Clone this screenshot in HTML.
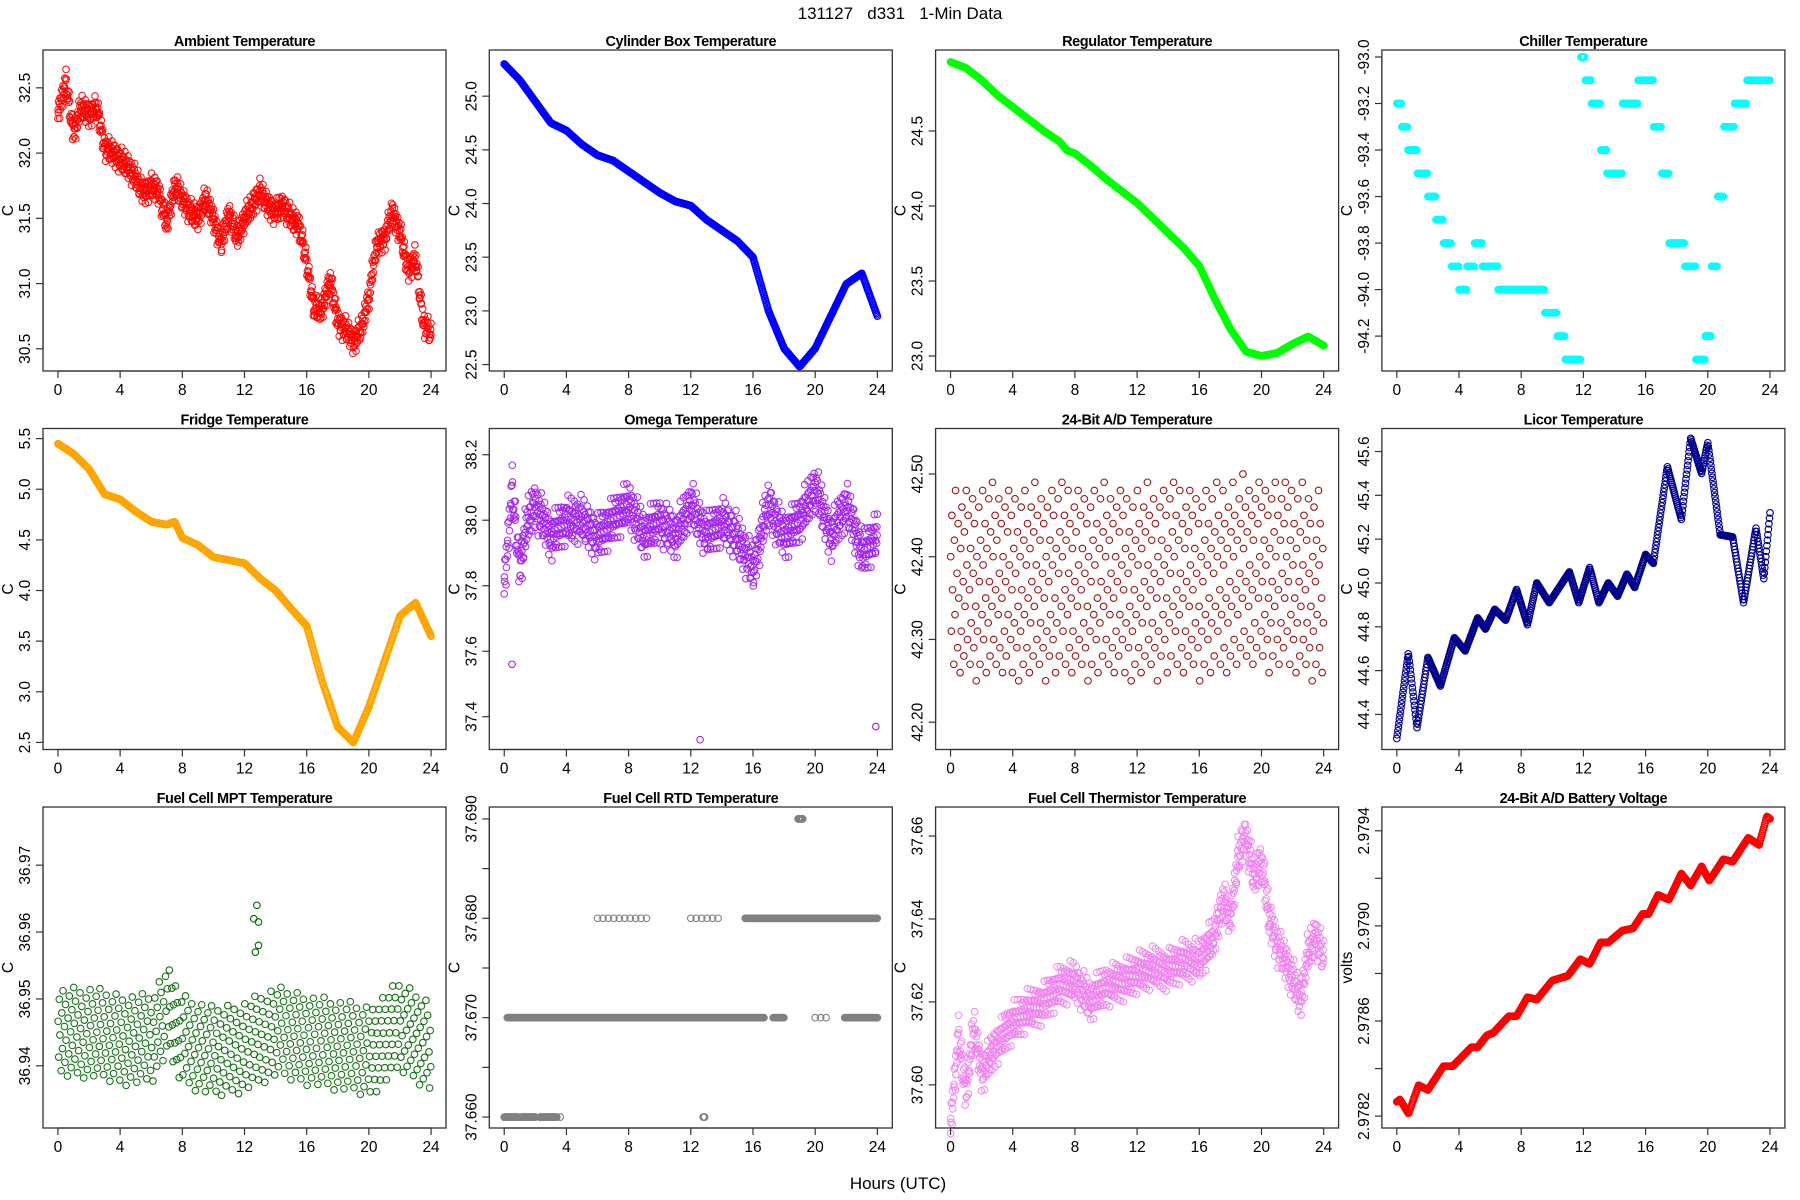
<!DOCTYPE html>
<html><head><meta charset="utf-8"><style>
html,body{margin:0;padding:0;background:#fff}
svg{display:block;font-family:"Liberation Sans",sans-serif}
</style></head><body>
<svg id="fig" width="1800" height="1200" viewBox="0 0 1800 1200" xmlns="http://www.w3.org/2000/svg">
<rect width="1800" height="1200" fill="#fff"/>
<text x="900" y="19" text-anchor="middle" font-size="17" fill="#000" xml:space="preserve">131127   d331   1-Min Data</text>
<text x="898" y="1189" text-anchor="middle" font-size="17" fill="#000">Hours (UTC)</text>
</svg>
<script>
// ---------- data ----------
const hoursTicks = [0,4,8,12,16,20,24];

const ambientHours = [0,0.5,1,1.5,2,2.5,3,3.5,4,4.5,5,5.5,6,6.5,7,7.5,8,8.5,9,9.5,10,10.5,11,11.5,12,12.5,13,13.5,14,14.5,15,15.5,16,16.5,17,17.5,18,18.5,19,19.5,20,20.5,21,21.5,22,22.5,23,23.5,24];
const ambientVals = [32.3,32.55,32.15,32.35,32.3,32.35,32.05,32.0,31.95,31.9,31.8,31.7,31.75,31.7,31.45,31.75,31.65,31.55,31.5,31.65,31.5,31.3,31.55,31.35,31.5,31.6,31.7,31.6,31.55,31.6,31.5,31.45,31.15,30.8,30.8,31.05,30.7,30.65,30.55,30.65,30.9,31.3,31.35,31.55,31.4,31.1,31.2,30.7,30.6];

const cylHours = [0,1,2,3,4,5,6,7,8,9,10,11,12,13,14,15,16,17,18,19,20,21,22,23,24];
const cylVals = [25.3,25.15,24.95,24.75,24.68,24.55,24.45,24.4,24.3,24.2,24.1,24.02,23.98,23.85,23.75,23.65,23.5,23.0,22.65,22.48,22.65,22.95,23.25,23.35,22.95];

const regHours = [0,1,2,3,4,5,6,7,7.5,8,9,10,11,12,13,14,15,16,17,18,19,20,21,22,23,24];
const regVals = [24.96,24.92,24.84,24.74,24.66,24.58,24.5,24.43,24.37,24.35,24.27,24.18,24.1,24.02,23.92,23.82,23.72,23.6,23.38,23.18,23.03,23.0,23.02,23.08,23.13,23.07];

const chillHours = [0,0.3,0.7,1.3,2,2.5,3,3.5,4,4.5,5,5.5,6,6.5,9,9.5,10.3,10.8,11.8,12.1,12.5,13.1,13.5,14.5,15.5,16.5,17,17.5,18.5,19.2,19.8,20.2,20.6,21,21.7,22.5,24];
const chillVals = [-93.2,-93.3,-93.4,-93.5,-93.6,-93.7,-93.8,-93.9,-94.0,-93.9,-93.8,-93.9,-93.9,-94.0,-94.0,-94.1,-94.2,-94.3,-93.0,-93.1,-93.2,-93.4,-93.5,-93.2,-93.1,-93.3,-93.5,-93.8,-93.9,-94.3,-94.2,-93.9,-93.6,-93.3,-93.2,-93.1,-93.1];

const fridgeHours = [0,1,2,3,4,5,6,7,7.5,8,9,10,11,12,13,14,15,16,17,18,19,20,21,22,23,24];
const fridgeVals = [5.45,5.35,5.2,4.95,4.9,4.78,4.68,4.65,4.68,4.52,4.45,4.33,4.3,4.27,4.12,4.0,3.82,3.65,3.1,2.65,2.5,2.85,3.3,3.75,3.88,3.55];

const omegaHours = [0,0.5,1,1.5,2,3,4,5,6,7,8,9,10,11,12,13,14,15,16,17,18,19,20,21,22,23,24];
const omegaVals = [37.8,38.1,37.85,38.0,38.05,37.95,38.0,38.0,37.95,38.0,38.05,37.95,38.0,37.95,38.05,37.95,38.0,37.95,37.85,38.05,37.95,38.0,38.1,37.95,38.05,37.9,37.95];
const omegaOutlierHours = [0.5,12.6,23.9];
const omegaOutlierVals = [37.56,37.33,37.37];

const adHours = [0,4,8,12,16,20,24];
const adVals = [42.37,42.37,42.37,42.37,42.37,42.38,42.37];

const licorHours = [0,0.74,1.3,2,2.8,3.7,4.4,5.2,5.7,6.3,7,7.7,8.4,9,9.8,11.1,11.7,12.4,13,13.6,14.2,14.8,15.3,16,16.5,17.4,18.3,18.9,19.6,20,20.8,21.6,22.3,23.1,23.6,24];
const licorVals = [44.29,44.68,44.34,44.66,44.53,44.75,44.69,44.84,44.79,44.88,44.83,44.97,44.81,45.0,44.91,45.05,44.91,45.07,44.91,45.0,44.94,45.04,44.98,45.13,45.09,45.53,45.29,45.66,45.5,45.64,45.22,45.21,44.91,45.25,45.02,45.32];

const mptHours = [0,2,4,6,7,8,10,12,14,16,18,20,22,24];
const mptVals = [36.945,36.945,36.944,36.944,36.948,36.944,36.942,36.943,36.945,36.944,36.943,36.942,36.946,36.943];
const mptOutlierHours = [12.6,12.8,12.9,12.9,12.7];
const mptOutlierVals = [36.962,36.964,36.9615,36.958,36.957];

const rtdSegStart = [0,1.1,2.3,3.6,12.8,0.2,17.3,20,21.9,6,12,15.5,18.9];
const rtdSegEnd   = [0.9,2.0,3.4,3.9,12.9,16.7,18,21,24,9.2,14,24,19.2];
const rtdSegVal   = [37.66,37.66,37.66,37.66,37.66,37.67,37.67,37.67,37.67,37.68,37.68,37.68,37.69];
const rtdSegDense = [1,1,1,0,1,1,1,0,1,0,0,1,1];

const thermHours = [0,0.5,1,1.5,2,3,4,5,6,7,8,9,10,11,12,13,14,15,16,17,17.5,18,18.5,19,19.5,20,20.5,21,22,22.5,23,23.5,24];
const thermVals = [37.59,37.612,37.598,37.614,37.603,37.61,37.615,37.618,37.62,37.624,37.625,37.62,37.624,37.625,37.627,37.628,37.628,37.63,37.63,37.636,37.645,37.64,37.655,37.66,37.65,37.654,37.64,37.634,37.626,37.62,37.632,37.636,37.63];

const battHours = [0,0.2,0.75,1.4,2,3,3.6,4.8,5.2,5.8,6.2,7.2,7.7,8.4,9,10,11,11.8,12.4,13.1,13.6,14.5,15.2,15.8,16.2,16.8,17.5,18.3,18.9,19.6,20.1,21,21.6,22.6,23.3,23.8,24];
const battVals = [2.97826,2.97827,2.97821,2.97833,2.97831,2.97841,2.97841,2.97849,2.97849,2.97854,2.97855,2.97862,2.97862,2.97870,2.97869,2.97877,2.97879,2.97886,2.97884,2.97893,2.97893,2.97898,2.97899,2.97905,2.97905,2.97913,2.97911,2.97922,2.97917,2.97925,2.97919,2.97928,2.97927,2.97937,2.97934,2.97946,2.97945];

// ---------- layout ----------
const NS="http://www.w3.org/2000/svg";
const svg=document.getElementById('fig');
function mk(tag,attrs,parent){const e=document.createElementNS(NS,tag);for(const k in attrs)e.setAttribute(k,attrs[k]);(parent||svg).appendChild(e);return e;}

const panels=[
 {title:"Ambient Temperature",col:0,row:0,ylim:[30.33,32.79],ticks:[30.5,31.0,31.5,32.0,32.5],dec:1,color:"#ff0000",hours:ambientHours,vals:ambientVals,spread:0.22,dens:2,type:"scatter"},
 {title:"Cylinder Box Temperature",col:1,row:0,ylim:[22.44,25.43],ticks:[22.5,23.0,23.5,24.0,24.5,25.0],dec:1,color:"#0000ff",hours:cylHours,vals:cylVals,type:"line"},
 {title:"Regulator Temperature",col:2,row:0,ylim:[22.9,25.04],ticks:[23.0,23.5,24.0,24.5],dec:1,color:"#00ff00",hours:regHours,vals:regVals,type:"line"},
 {title:"Chiller Temperature",col:3,row:0,ylim:[-94.35,-92.97],ticks:[-94.2,-94.0,-93.8,-93.6,-93.4,-93.2,-93.0],dec:1,color:"#00ffff",hours:chillHours,vals:chillVals,type:"step"},
 {title:"Fridge Temperature",col:0,row:1,ylim:[2.43,5.60],ticks:[2.5,3.0,3.5,4.0,4.5,5.0,5.5],dec:1,color:"#ffa500",hours:fridgeHours,vals:fridgeVals,type:"line"},
 {title:"Omega Temperature",col:1,row:1,ylim:[37.30,38.28],ticks:[37.4,37.6,37.8,38.0,38.2],dec:1,color:"#a020f0",hours:omegaHours,vals:omegaVals,spread:0.16,dens:2,type:"scatter",oh:omegaOutlierHours,ov:omegaOutlierVals},
 {title:"24-Bit A/D Temperature",col:2,row:1,ylim:[42.167,42.555],ticks:[42.20,42.30,42.40,42.50],dec:2,color:"#8b0000",hours:adHours,vals:adVals,spread:0.24,q:0.01,dens:1,type:"scatter"},
 {title:"Licor Temperature",col:3,row:1,ylim:[44.24,45.705],ticks:[44.4,44.6,44.8,45.0,45.2,45.4,45.6],dec:1,color:"#00008b",hours:licorHours,vals:licorVals,type:"line"},
 {title:"Fuel Cell MPT Temperature",col:0,row:2,ylim:[36.9307,36.9787],ticks:[36.94,36.95,36.96,36.97],dec:2,color:"#006400",hours:mptHours,vals:mptVals,spread:0.014,dens:1,type:"scatter",oh:mptOutlierHours,ov:mptOutlierVals},
 {title:"Fuel Cell RTD Temperature",col:1,row:2,ylim:[37.6589,37.6912],ticks:[37.660,37.665,37.670,37.675,37.680,37.685,37.690],lab:[1,0,1,0,1,0,1],dec:3,color:"#808080",type:"rtd"},
 {title:"Fuel Cell Thermistor Temperature",col:2,row:2,ylim:[37.5896,37.667],ticks:[37.60,37.62,37.64,37.66],dec:2,color:"#ee82ee",hours:thermHours,vals:thermVals,spread:0.011,dens:2,type:"scatter"},
 {title:"24-Bit A/D Battery Voltage",col:3,row:2,ylim:[2.97815,2.97950],ticks:[2.9782,2.9784,2.9786,2.9788,2.9790,2.9792,2.9794],lab:[1,0,1,0,1,0,1],dec:4,color:"#ff0000",hours:battHours,vals:battVals,type:"line",ylab:"volts"}
];

function interp(hs,vs,t){
  if(t<=hs[0])return vs[0];
  for(let i=1;i<hs.length;i++){if(t<=hs[i]){const f=(t-hs[i-1])/(hs[i]-hs[i-1]);return vs[i-1]+f*(vs[i]-vs[i-1]);}}
  return vs[vs.length-1];
}
function stepv(hs,vs,t){let v=vs[0];for(let i=0;i<hs.length;i++){if(t>=hs[i])v=vs[i];}return v;}
// low-discrepancy texture offsets in [-0.5,0.5] (visual scatter texture only)
function ld(k,a){const x=(k*a)%1;return x-0.5;}

const W=403,H=321;
panels.forEach((p,pi)=>{
  const L=43+p.col*446.3, T=50+p.row*378.5, B=T+H, R=L+W;
  const xs=h=>L+W*(0.04/1.08)+ (h/24)*W/1.08;
  const ys=v=>B-(v-p.ylim[0])/(p.ylim[1]-p.ylim[0])*H;
  const g=mk('g',{});
  
  
  const cg=mk('g',{},g);
  
  
  const ring=(h,v,op)=>{const c=mk('circle',{cx:xs(h).toFixed(1),cy:ys(v).toFixed(1),r:3.3,fill:'none',stroke:p.color,'stroke-width':1.1,'stroke-opacity':op||1},cg);return c;};
  if(p.type==='line'){
    for(let t=0;t<=24.0001;t+=1/30){ring(t,interp(p.hours,p.vals,t));}
  } else if(p.type==='step'){
    for(let t=0;t<=24.0001;t+=1/25){ring(t,stepv(p.hours,p.vals,t));}
  } else if(p.type==='scatter'){
    let k=0;
    for(let t=0;t<=24.0001;t+=1/20){
      for(let j=0;j<p.dens;j++){
        k++;
        const tt=t+ld(k,0.7548776662)*0.05;
        const c=interp(p.hours,p.vals,tt);
        const o=ld(k,0.6180339887)*(j===1?0.6:1);
        let v=c+o*p.spread;
        if(p.q)v=Math.round(v/p.q)*p.q;
        if(tt>=0&&tt<=24)ring(tt,v,0.9);
      }
    }
    if(p.oh){p.oh.forEach((h,i)=>ring(h,p.ov[i]));}
  } else if(p.type==='rtd'){
    rtdSegStart.forEach((s,i)=>{
      const step=rtdSegDense[i]?0.03:0.35;
      for(let t=s;t<=rtdSegEnd[i]+0.0001;t+=step){ring(t,rtdSegVal[i]);}
    });
  }
  const box=mk('rect',{x:L,y:T,width:W,height:H,fill:'none',stroke:'#333','stroke-width':1.3},g);
  
  
  const tt=mk('text',{x:L+W/2,y:T-4,'text-anchor':'middle','font-size':14.5,'font-weight':'bold','letter-spacing':'-0.4',fill:'#000'},g);
  tt.textContent=p.title;
  
  
  const xa=mk('g',{},g);
  
  
  mk('line',{x1:xs(0),x2:xs(24),y1:B,y2:B,stroke:'#333','stroke-width':1.2},xa);
  hoursTicks.forEach(h=>{
    mk('line',{x1:xs(h),x2:xs(h),y1:B,y2:B+7,stroke:'#333','stroke-width':1.2},xa);
    const tx=mk('text',{x:xs(h),y:B+24,'text-anchor':'middle','font-size':15.5,fill:'#000'},xa);
    tx.textContent=h;
    
    
  });
  const ya=mk('g',{},g);
  
  
  mk('line',{x1:L,x2:L,y1:ys(p.ticks[0]),y2:ys(p.ticks[p.ticks.length-1]),stroke:'#333','stroke-width':1.2},ya);
  p.ticks.forEach((v,i)=>{
    const y=ys(v);
    mk('line',{x1:L-7,x2:L,y1:y,y2:y,stroke:'#333','stroke-width':1.2},ya);
    if(!p.lab||p.lab[i]){
      const tx=mk('text',{x:0,y:0,'text-anchor':'middle','font-size':15.5,fill:'#000',transform:`translate(${L-13},${y}) rotate(-90)`},ya);
      tx.textContent=v.toFixed(p.dec);
      
      
    }
  });
  const yl=mk('text',{x:0,y:0,'text-anchor':'middle','font-size':15.5,fill:'#000',transform:`translate(${L-30},${T+H/2}) rotate(-90)`},g);
  yl.textContent=p.ylab||'C';
  
  
});
</script>
</body></html>
